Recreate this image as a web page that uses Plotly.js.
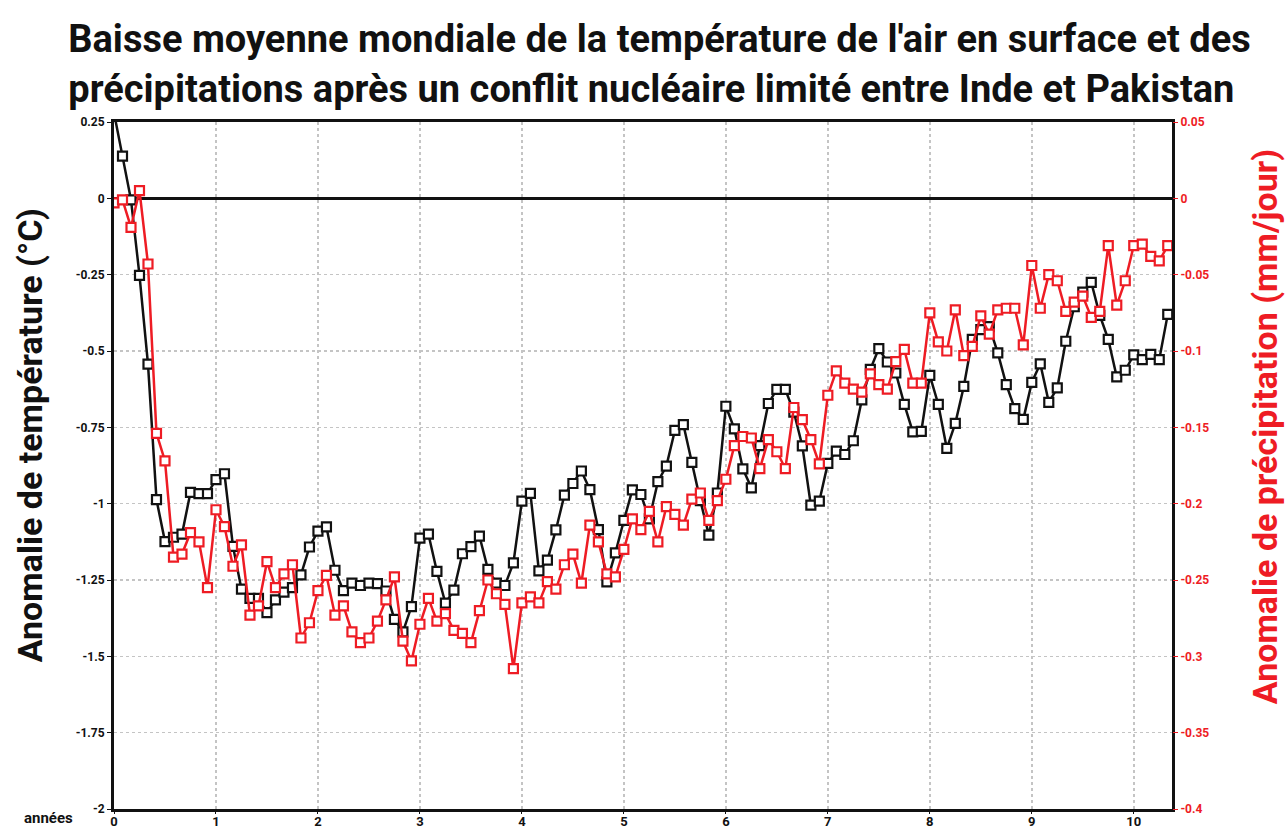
<!DOCTYPE html>
<html><head><meta charset="utf-8">
<script src="https://cdn.plot.ly/plotly-3.0.1.min.js"></script>
<style>html,body{margin:0;padding:0;background:#fff}#chart{width:1288px;height:832px}</style>
</head><body><div id="chart"></div>
<script>
// Monthly global mean anomalies, month 0 .. 124
const temperature = [
 0.28, 0.138, -0.005, -0.252, -0.543, -0.987, -1.124, -1.11, -1.10, -0.963,
 -0.967, -0.967, -0.921, -0.902, -1.14, -1.28, -1.31, -1.31, -1.357, -1.315,
 -1.29, -1.275, -1.233, -1.142, -1.09, -1.076, -1.218, -1.285, -1.26, -1.268,
 -1.26, -1.262, -1.286, -1.379, -1.42, -1.337, -1.113, -1.10, -1.222, -1.326,
 -1.283, -1.164, -1.141, -1.106, -1.215, -1.26, -1.268, -1.194, -0.992, -0.966,
 -1.22, -1.185, -1.086, -0.972, -0.934, -0.893, -0.954, -1.085, -1.256, -1.161,
 -1.055, -0.955, -0.97, -1.05, -0.928, -0.877, -0.76, -0.741, -0.865, -0.99,
 -1.103, -0.965, -0.681, -0.755, -0.886, -0.948, -0.81, -0.672, -0.626, -0.626,
 -0.70, -0.811, -1.005, -0.992, -0.868, -0.828, -0.839, -0.794, -0.66, -0.56,
 -0.492, -0.536, -0.572, -0.675, -0.765, -0.763, -0.58, -0.675, -0.819, -0.737,
 -0.616, -0.462, -0.43, -0.42, -0.506, -0.61, -0.689, -0.724, -0.603, -0.542,
 -0.668, -0.621, -0.468, -0.355, -0.307, -0.275, -0.383, -0.462, -0.585, -0.563,
 -0.513, -0.528, -0.511, -0.528, -0.38
];
const precipitation = [
 -0.003, -0.001, -0.019, 0.005, -0.043, -0.154, -0.172, -0.235, -0.233, -0.219,
 -0.225, -0.255, -0.204, -0.215, -0.241, -0.227, -0.273, -0.267, -0.238, -0.255,
 -0.246, -0.24, -0.288, -0.278, -0.257, -0.247, -0.273, -0.267, -0.284, -0.291,
 -0.288, -0.277, -0.263, -0.248, -0.29, -0.303, -0.279, -0.262, -0.277, -0.272,
 -0.283, -0.285, -0.291, -0.27, -0.25, -0.259, -0.266, -0.308, -0.265, -0.261,
 -0.265, -0.251, -0.256, -0.24, -0.233, -0.252, -0.214, -0.225, -0.246, -0.248,
 -0.23, -0.21, -0.217, -0.205, -0.225, -0.202, -0.207, -0.214, -0.197, -0.193,
 -0.211, -0.198, -0.184, -0.162, -0.156, -0.157, -0.177, -0.158, -0.166, -0.177,
 -0.137, -0.145, -0.158, -0.174, -0.129, -0.113, -0.121, -0.125, -0.127, -0.115,
 -0.122, -0.125, -0.107, -0.099, -0.121, -0.121, -0.075, -0.094, -0.1, -0.073,
 -0.103, -0.097, -0.077, -0.089, -0.073, -0.072, -0.072, -0.096, -0.044, -0.072,
 -0.05, -0.054, -0.074, -0.068, -0.064, -0.078, -0.074, -0.031, -0.07, -0.054,
 -0.031, -0.03, -0.038, -0.041, -0.031
];
const years = temperature.map((_, i) => i / 12);
const yearTicks = [0, 1, 2, 3, 4, 5, 6, 7, 8, 9, 10];
const tempTicks = [0.25, 0, -0.25, -0.5, -0.75, -1, -1.25, -1.5, -1.75, -2];
const tempTickText = ['0.25', '0', '-0.25', '-0.5', '-0.75', '-1', '-1.25', '-1.5', '-1.75', '-2'];
const precTicks = [0.05, 0, -0.05, -0.1, -0.15, -0.2, -0.25, -0.3, -0.35, -0.4];
const precTickText = ['0.05', '0', '-0.05', '-0.1', '-0.15', '-0.2', '-0.25', '-0.3', '-0.35', '-0.4'];

const RED = '#ee1c24';
const FONT = 'Roboto, "Liberation Sans", sans-serif';

const traces = [
  {
    x: years, y: temperature, type: 'scatter', mode: 'lines+markers', yaxis: 'y',
    line: {color: '#111', width: 2.5},
    marker: {symbol: 'square', size: 9, color: '#fff', line: {color: '#111', width: 2.2}},
    cliponaxis: true, hoverinfo: 'skip'
  },
  {
    x: years, y: precipitation, type: 'scatter', mode: 'lines+markers', yaxis: 'y2',
    line: {color: RED, width: 2.5},
    marker: {symbol: 'square', size: 9, color: '#fff', line: {color: RED, width: 2.2}},
    cliponaxis: true, hoverinfo: 'skip'
  }
];

const layout = {
  width: 1288, height: 832,
  paper_bgcolor: '#fff', plot_bgcolor: '#fff',
  showlegend: false,
  margin: {l: 114, r: 116, t: 122, b: 23},
  font: {family: FONT, color: '#111'},
  title: {
    text: "Baisse moyenne mondiale de la température de l'air en surface et des<br>précipitations après un conflit nucléaire limité entre Inde et Pakistan",
    x: 0.053, xanchor: 'left', xref: 'container',
    y: 0.937, yanchor: 'middle', yref: 'container',
    font: {family: FONT, size: 38, weight: 'bold', color: '#111'}
  },
  xaxis: {
    range: [0, 10.375], tickvals: yearTicks, ticktext: yearTicks.map(String),
    showgrid: true, gridcolor: '#c4c4c4', griddash: 'dot', gridwidth: 1.5,
    zeroline: false, showline: true, linecolor: '#111', linewidth: 3, mirror: true,
    ticks: 'outside', ticklen: 2, tickcolor: '#111', ticklabelstandoff: -4,
    tickfont: {family: FONT, size: 13, weight: 'bold', color: '#111'}
  },
  yaxis: {
    range: [-2, 0.25], tickvals: tempTicks, ticktext: tempTickText,
    showgrid: true, gridcolor: '#c4c4c4', griddash: 'dot', gridwidth: 1.5,
    zeroline: true, zerolinecolor: '#111', zerolinewidth: 3,
    showline: true, linecolor: '#111', linewidth: 3, mirror: true,
    ticks: 'outside', ticklen: 4, tickcolor: '#111',
    tickfont: {family: FONT, size: 12, weight: 'bold', color: '#111'}
  },
  yaxis2: {
    overlaying: 'y', side: 'right', anchor: 'x',
    range: [-0.4, 0.05], tickvals: precTicks, ticktext: precTickText,
    showgrid: false, zeroline: false, showline: false,
    ticks: 'outside', ticklen: 5, tickcolor: RED,
    tickfont: {family: FONT, size: 12, weight: 'bold', color: RED}
  },
  annotations: [
    {text: 'Anomalie de température (°C)', xref: 'paper', yref: 'paper',
     x: -0.0794, y: 0.544, xanchor: 'center', yanchor: 'middle', textangle: -90,
     showarrow: false, font: {family: FONT, size: 34, weight: 'bold', color: '#111'}},
    {text: 'Anomalie de précipitation (mm/jour)', xref: 'paper', yref: 'paper',
     x: 1.088, y: 0.556, xanchor: 'center', yanchor: 'middle', textangle: -90,
     showarrow: false, font: {family: FONT, size: 34, weight: 'bold', color: RED}},
    {text: 'années', xref: 'paper', yref: 'paper', x: -0.062, y: -0.013,
     xanchor: 'center', yanchor: 'middle', showarrow: false,
     font: {family: FONT, size: 15, weight: 'bold', color: '#111'}}
  ]
};

Plotly.newPlot('chart', traces, layout, {displayModeBar: false, staticPlot: true});
</script>
</body></html>
